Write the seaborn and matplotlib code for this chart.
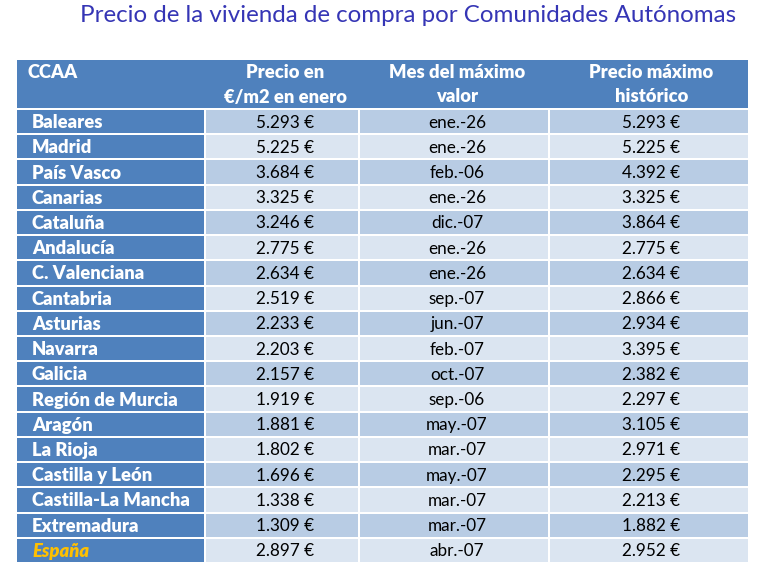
import matplotlib
matplotlib.use('Agg')
import matplotlib.pyplot as plt
import seaborn as sns

# datos de la tabla
ccaa = ['Baleares', 'Madrid', 'País Vasco', 'Canarias', 'Cataluña', 'Andalucía',
        'C. Valenciana', 'Cantabria', 'Asturias', 'Navarra', 'Galicia',
        'Región de Murcia', 'Aragón', 'La Rioja', 'Castilla y León',
        'Castilla-La Mancha', 'Extremadura', 'España']
precio_enero = [5293, 5225, 3684, 3325, 3246, 2775, 2634, 2519, 2233, 2203, 2157,
                1919, 1881, 1802, 1696, 1338, 1309, 2897]
mes_maximo = ['ene.-26', 'ene.-26', 'feb.-06', 'ene.-26', 'dic.-07', 'ene.-26',
              'ene.-26', 'sep.-07', 'jun.-07', 'feb.-07', 'oct.-07', 'sep.-06',
              'may.-07', 'mar.-07', 'may.-07', 'mar.-07', 'mar.-07', 'abr.-07']
precio_maximo = [5293, 5225, 4392, 3325, 3864, 2775, 2634, 2866, 2934, 3395, 2382,
                 2297, 3105, 2971, 2295, 2213, 1882, 2952]
cabeceras = ['CCAA', 'Precio en\n€/m2 en enero', 'Mes del máximo\nvalor',
             'Precio máximo\nhistórico']
titulo = 'Precio de la vivienda de compra por Comunidades Autónomas'

sns.set_style('white')
plt.rcParams['font.family'] = ['Lato', 'DejaVu Sans']

AZUL = '#4F81BD'
OSCURO = '#B8CCE4'
CLARO = '#DBE5F1'
NEGRITA = 13.2
NORMAL = 12.3

def euros(v):
    return f'{v:,}'.replace(',', '.') + ' €'

fig = plt.figure(figsize=(7.66, 5.78), dpi=100)
ax = fig.add_axes([0, 0, 1, 1])
ax.set_xlim(0, 766)
ax.set_ylim(578, 0)
ax.axis('off')

bordes = [17, 205, 359, 549, 748]
top, cab_bottom = 60, 109
alto = (563 - cab_bottom) / len(ccaa)
gap = 1

ax.text(408, 16, titulo, ha='center', va='center', fontsize=17.4, color='#3535B5')

# cabecera
ax.add_patch(plt.Rectangle((bordes[0], top), bordes[-1] - bordes[0],
                           cab_bottom - top - gap, color=AZUL, lw=0))
ax.text(27, 72, cabeceras[0], ha='left', va='center', fontsize=NEGRITA,
        fontweight='heavy', color='white')
for j in range(1, 4):
    cx = (bordes[j] + bordes[j + 1]) / 2 + 3
    l1, l2 = cabeceras[j].split('\n')
    ax.text(cx, 72, l1, ha='center', va='center', fontsize=NEGRITA,
            fontweight='heavy', color='white')
    ax.text(cx, 97, l2, ha='center', va='center', fontsize=NEGRITA,
            fontweight='heavy', color='white')

# filas
for i, nombre in enumerate(ccaa):
    y0 = cab_bottom + i * alto
    fondo = OSCURO if i % 2 == 0 else CLARO
    valores = [euros(precio_enero[i]), mes_maximo[i], euros(precio_maximo[i])]
    for j in range(4):
        x0 = bordes[j] + (0 if j == 0 else gap)
        w = bordes[j + 1] - x0 - (gap if j < 3 else 0)
        ax.add_patch(plt.Rectangle((x0, y0 + gap), w, alto - 2 * gap,
                                   color=AZUL if j == 0 else fondo, lw=0))
    cy = y0 + alto / 2 + 1
    if nombre == 'España':
        ax.text(32, cy, nombre, ha='left', va='center', fontsize=NEGRITA,
                fontweight='heavy', style='italic', color='#FFC000')
    else:
        ax.text(32, cy, nombre, ha='left', va='center', fontsize=NEGRITA,
                fontweight='heavy', color='white')
    for j, v in enumerate(valores, start=1):
        cx = (bordes[j] + bordes[j + 1]) / 2 + 3
        ax.text(cx, cy, v, ha='center', va='center', fontsize=NORMAL, color='black')

fig.savefig('out.png', dpi=100)
